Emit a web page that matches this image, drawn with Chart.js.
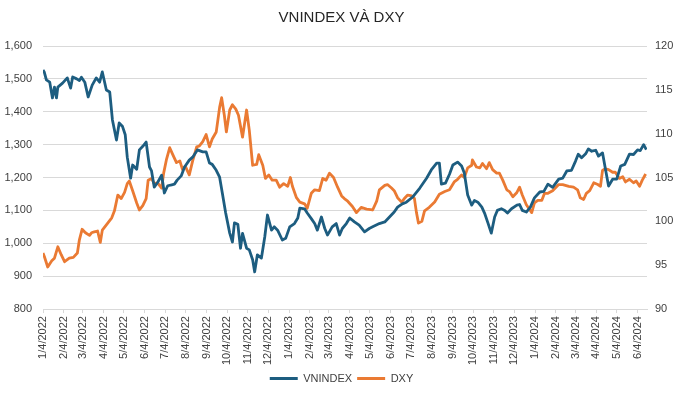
<!DOCTYPE html>
<html><head><meta charset="utf-8">
<script src="https://cdn.jsdelivr.net/npm/chart.js@4/dist/chart.umd.min.js"></script>
<style>html,body{margin:0;padding:0;background:#fff}#wrap{width:683px;height:394px;position:relative}</style>
</head><body><div id="wrap"><canvas id="c"></canvas></div>
<script>
const chartTitle = "VNINDEX VÀ DXY";
const seriesNames = ["VNINDEX", "DXY"];
const tickLabels = ["1/4/2022","2/4/2022","3/4/2022","4/4/2022","5/4/2022","6/4/2022","7/4/2022","8/4/2022","9/4/2022","10/4/2022","11/4/2022","12/4/2022","1/4/2023","2/4/2023","3/4/2023","4/4/2023","5/4/2023","6/4/2023","7/4/2023","8/4/2023","9/4/2023","10/4/2023","11/4/2023","12/4/2023","1/4/2024","2/4/2024","3/4/2024","4/4/2024","5/4/2024","6/4/2024"];
const axisEndDate = "2024-06-18";

const vnDates = ["2022-01-04","2022-01-06","2022-01-09","2022-01-14","2022-01-18","2022-01-21","2022-01-24","2022-01-26","2022-02-02","2022-02-09","2022-02-14","2022-02-17","2022-02-23","2022-02-27","2022-03-02","2022-03-07","2022-03-12","2022-03-18","2022-03-24","2022-03-29","2022-04-02","2022-04-08","2022-04-13","2022-04-17","2022-04-23","2022-04-27","2022-05-02","2022-05-06","2022-05-09","2022-05-14","2022-05-17","2022-05-23","2022-05-27","2022-06-01","2022-06-06","2022-06-11","2022-06-14","2022-06-18","2022-06-23","2022-06-29","2022-07-03","2022-07-08","2022-07-14","2022-07-18","2022-07-22","2022-07-28","2022-08-02","2022-08-09","2022-08-14","2022-08-21","2022-08-29","2022-09-03","2022-09-08","2022-09-12","2022-09-18","2022-09-23","2022-09-27","2022-10-02","2022-10-08","2022-10-12","2022-10-15","2022-10-20","2022-10-24","2022-10-27","2022-11-02","2022-11-06","2022-11-11","2022-11-14","2022-11-18","2022-11-24","2022-11-29","2022-12-03","2022-12-09","2022-12-13","2022-12-18","2022-12-25","2022-12-30","2023-01-05","2023-01-12","2023-01-17","2023-01-20","2023-01-27","2023-01-31","2023-02-06","2023-02-11","2023-02-15","2023-02-21","2023-02-26","2023-03-02","2023-03-09","2023-03-15","2023-03-20","2023-03-24","2023-03-30","2023-04-04","2023-04-11","2023-04-18","2023-04-26","2023-05-03","2023-05-08","2023-05-18","2023-05-26","2023-06-02","2023-06-09","2023-06-14","2023-06-21","2023-06-27","2023-07-06","2023-07-17","2023-07-27","2023-08-03","2023-08-11","2023-08-15","2023-08-18","2023-08-24","2023-08-30","2023-09-04","2023-09-11","2023-09-17","2023-09-21","2023-09-26","2023-10-02","2023-10-06","2023-10-11","2023-10-17","2023-10-21","2023-10-26","2023-10-31","2023-11-05","2023-11-09","2023-11-15","2023-11-20","2023-11-24","2023-11-30","2023-12-08","2023-12-12","2023-12-16","2023-12-22","2023-12-28","2024-01-03","2024-01-11","2024-01-17","2024-01-23","2024-01-30","2024-02-08","2024-02-14","2024-02-20","2024-02-27","2024-03-04","2024-03-08","2024-03-13","2024-03-19","2024-03-23","2024-03-28","2024-04-03","2024-04-07","2024-04-13","2024-04-17","2024-04-22","2024-04-28","2024-05-04","2024-05-10","2024-05-16","2024-05-23","2024-05-29","2024-06-04","2024-06-08","2024-06-13","2024-06-17"];
const vnValues = [1527,1520,1497,1490,1442,1475,1442,1475,1487,1503,1472,1506,1500,1495,1505,1490,1445,1481,1503,1490,1521,1466,1460,1375,1314,1366,1355,1330,1262,1198,1238,1225,1284,1295,1308,1232,1220,1171,1185,1207,1153,1175,1178,1180,1192,1205,1232,1253,1262,1284,1278,1278,1244,1240,1222,1201,1153,1092,1031,1004,1062,1058,985,1030,985,980,950,913,965,955,1020,1086,1040,1050,1040,1010,1015,1050,1060,1077,1107,1105,1092,1075,1060,1040,1080,1045,1025,1050,1060,1025,1045,1060,1077,1065,1055,1035,1045,1050,1060,1065,1080,1095,1110,1120,1125,1140,1168,1198,1223,1244,1244,1180,1183,1210,1238,1247,1235,1214,1147,1116,1130,1125,1110,1092,1062,1031,1080,1100,1105,1100,1092,1105,1116,1118,1100,1095,1110,1138,1156,1158,1180,1170,1195,1198,1220,1222,1250,1271,1260,1272,1287,1280,1283,1265,1275,1230,1174,1195,1195,1235,1240,1271,1270,1284,1282,1300,1285];

const dxyDates = ["2022-01-04","2022-01-06","2022-01-11","2022-01-17","2022-01-21","2022-01-26","2022-01-31","2022-02-05","2022-02-12","2022-02-18","2022-02-24","2022-02-27","2022-03-03","2022-03-08","2022-03-14","2022-03-17","2022-03-21","2022-03-26","2022-03-30","2022-04-02","2022-04-10","2022-04-16","2022-04-20","2022-04-25","2022-04-30","2022-05-05","2022-05-09","2022-05-12","2022-05-17","2022-05-23","2022-05-27","2022-06-01","2022-06-06","2022-06-09","2022-06-14","2022-06-18","2022-06-23","2022-06-29","2022-07-02","2022-07-06","2022-07-11","2022-07-15","2022-07-21","2022-07-26","2022-07-30","2022-08-03","2022-08-09","2022-08-14","2022-08-20","2022-08-24","2022-08-29","2022-09-03","2022-09-08","2022-09-12","2022-09-18","2022-09-23","2022-09-26","2022-09-30","2022-10-03","2022-10-08","2022-10-12","2022-10-17","2022-10-21","2022-10-27","2022-11-02","2022-11-06","2022-11-11","2022-11-17","2022-11-20","2022-11-26","2022-11-30","2022-12-05","2022-12-10","2022-12-16","2022-12-21","2022-12-27","2023-01-02","2023-01-06","2023-01-09","2023-01-15","2023-01-20","2023-01-27","2023-01-31","2023-02-06","2023-02-11","2023-02-18","2023-02-23","2023-02-28","2023-03-05","2023-03-11","2023-03-17","2023-03-23","2023-03-27","2023-04-01","2023-04-08","2023-04-14","2023-04-21","2023-04-29","2023-05-08","2023-05-14","2023-05-18","2023-05-26","2023-05-30","2023-06-05","2023-06-09","2023-06-14","2023-06-20","2023-06-24","2023-06-29","2023-07-05","2023-07-09","2023-07-12","2023-07-15","2023-07-20","2023-07-24","2023-07-31","2023-08-08","2023-08-15","2023-08-23","2023-08-30","2023-09-06","2023-09-11","2023-09-17","2023-09-21","2023-09-26","2023-10-02","2023-10-03","2023-10-09","2023-10-14","2023-10-18","2023-10-24","2023-10-28","2023-11-02","2023-11-08","2023-11-12","2023-11-17","2023-11-23","2023-11-27","2023-12-02","2023-12-08","2023-12-12","2023-12-16","2023-12-22","2023-12-30","2024-01-03","2024-01-08","2024-01-14","2024-01-18","2024-01-23","2024-01-30","2024-02-08","2024-02-14","2024-02-23","2024-03-01","2024-03-07","2024-03-11","2024-03-16","2024-03-20","2024-03-25","2024-03-31","2024-04-06","2024-04-10","2024-04-13","2024-04-17","2024-04-22","2024-04-28","2024-05-02","2024-05-08","2024-05-13","2024-05-17","2024-05-23","2024-05-29","2024-06-02","2024-06-07","2024-06-11","2024-06-16"];
const dxyValues = [96.4,96.0,94.8,95.5,95.8,97.1,96.2,95.4,95.8,95.9,96.4,97.9,99.1,98.7,98.4,98.7,98.8,98.9,97.6,99.0,99.8,100.4,101.2,103.0,102.6,103.3,104.3,104.6,103.5,102.1,101.3,101.8,102.6,104.7,104.9,104.3,104.4,103.8,105.5,107.0,108.4,107.7,106.7,106.9,105.9,106.3,105.3,106.9,108.5,108.6,109.1,109.9,108.5,109.4,110.2,113.0,114.1,112.1,110.2,112.7,113.3,112.8,112.1,109.6,112.7,110.4,106.4,106.5,107.6,106.4,104.9,105.3,104.7,104.7,103.9,104.3,104.0,105.0,104.0,102.7,102.2,102.0,101.5,103.2,103.6,103.5,104.9,104.7,105.5,105.0,103.9,102.9,102.6,102.3,101.7,101.0,101.6,101.4,101.3,102.3,103.6,104.1,104.2,103.8,103.5,102.7,102.2,102.6,103.0,102.9,102.6,101.0,99.8,100.0,101.2,101.6,102.2,103.1,103.4,103.6,104.5,104.8,105.3,105.0,106.1,106.4,107.0,106.2,106.1,106.6,106.0,106.7,105.9,105.5,105.5,104.7,103.6,103.4,102.8,103.3,103.9,103.0,101.9,101.0,102.1,102.4,102.4,103.2,103.2,103.5,104.2,104.2,104.0,103.9,103.6,102.7,102.5,103.2,103.5,104.4,104.2,104.0,105.8,106.0,105.9,105.6,105.6,104.9,105.1,104.5,104.8,104.4,104.6,104.0,104.7,105.4];

const COLORS = { vn: "#1d5d80", dxy: "#ea7a33", grid: "#d9d9d9", text: "#404040" };
const FONT = "'Liberation Sans', Arial, sans-serif";

function dayNum(s){ const p = s.split('-').map(Number); return Date.UTC(p[0], p[1]-1, p[2]) / 86400000; }
function tickDay(s){ const p = s.split('/').map(Number); return Date.UTC(p[2], p[0]-1, p[1]) / 86400000; }
const tickDays = tickLabels.map(tickDay);
const vnPoints = vnDates.map((d,i)=>({x: dayNum(d), y: vnValues[i]}));
const dxyPoints = dxyDates.map((d,i)=>({x: dayNum(d), y: dxyValues[i]}));

new Chart(document.getElementById('c'), {
  type: 'line',
  data: {
    datasets: [
      { label: seriesNames[0], data: vnPoints, yAxisID: 'y', borderColor: COLORS.vn, backgroundColor: COLORS.vn, borderWidth: 2.8, pointRadius: 0, tension: 0, borderJoinStyle: 'round' },
      { label: seriesNames[1], data: dxyPoints, yAxisID: 'y1', borderColor: COLORS.dxy, backgroundColor: COLORS.dxy, borderWidth: 2.8, pointRadius: 0, tension: 0, borderJoinStyle: 'round' }
    ]
  },
  options: {
    responsive: true, maintainAspectRatio: false, animation: false,
    layout: { padding: { left: 0, right: 0, top: 0, bottom: 0 } },
    plugins: {
      tooltip: { enabled: false },
      title: { display: true, text: chartTitle, color: '#262626', font: { family: FONT, size: 15, weight: 'normal' }, padding: { top: 9, bottom: 19 } },
      legend: {
        position: 'bottom',
        labels: {
          boxWidth: 28, boxHeight: 3, padding: 5, color: COLORS.text,
          font: { family: FONT, size: 11 },
          generateLabels(chart){
            const items = Chart.defaults.plugins.legend.labels.generateLabels(chart);
            items.forEach(it => { it.lineWidth = 0; it.fillStyle = it.strokeStyle; });
            return items;
          }
        }
      }
    },
    scales: {
      x: {
        type: 'linear', min: tickDays[0], max: dayNum(axisEndDate),
        afterBuildTicks(scale){ scale.ticks = tickDays.map(v => ({ value: v })); },
        ticks: { autoSkip: false, maxRotation: 90, minRotation: 90, padding: 3, color: COLORS.text, font: { family: FONT, size: 11 },
          callback(v, i){ return tickLabels[i]; } },
        grid: { drawOnChartArea: false, drawTicks: true, tickLength: 4, color: COLORS.grid },
        border: { display: true, color: COLORS.grid }
      },
      y: {
        position: 'left', min: 800, max: 1600,
        ticks: { stepSize: 100, padding: 11, color: COLORS.text, font: { family: FONT, size: 11 }, callback: v => v.toLocaleString('en-US') },
        grid: { color: COLORS.grid, drawTicks: false },
        border: { display: false },
        afterFit(s){ s.width = 43; }
      },
      y1: {
        position: 'right', min: 90, max: 120,
        ticks: { stepSize: 5, padding: 8, color: COLORS.text, font: { family: FONT, size: 11 } },
        grid: { drawOnChartArea: false, drawTicks: false },
        border: { display: false },
        afterFit(s){ s.width = 36; }
      }
    }
  }
});
</script>
</body></html>
